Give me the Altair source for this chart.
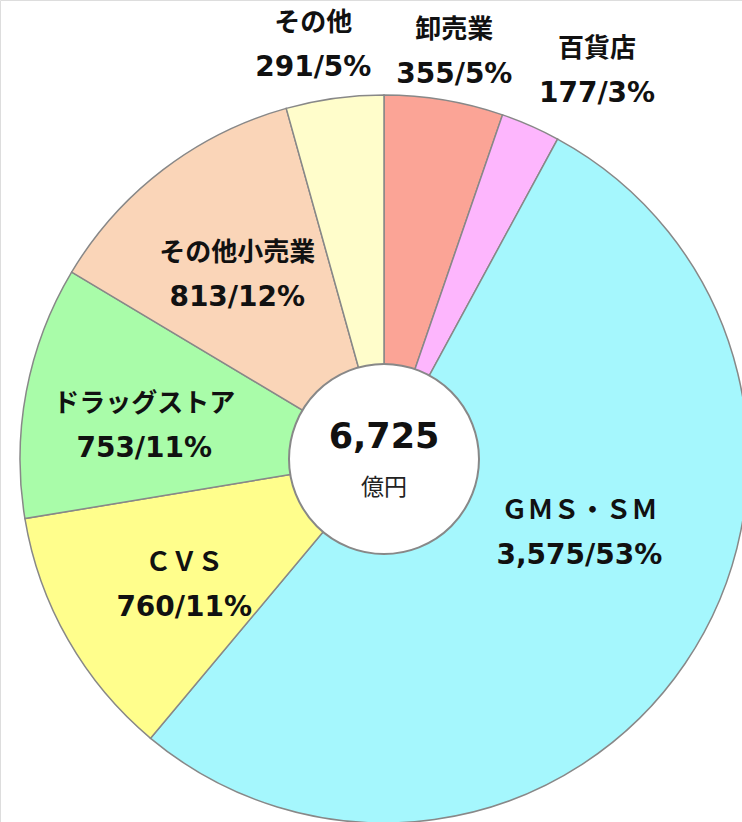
import math
import altair as alt
import pandas as pd

# ---- data ----
categories = ["卸売業", "百貨店", "ＧＭＳ・ＳＭ", "ＣＶＳ", "ドラッグストア", "その他小売業", "その他"]
values = [355, 177, 3575, 760, 753, 813, 291]
percents = [5, 3, 53, 11, 11, 12, 5]
value_labels = ["355", "177", "3,575", "760", "753", "813", "291"]
colors = ["#FBA496", "#FDB6FD", "#A5F7FD", "#FFFE8C", "#A9FCA9", "#FAD5B8", "#FFFDCB"]
total_label = "6,725"
unit_label = "億円"

# ---- layout ----
W, H = 742, 822
CX, CY = 384, 459
R_OUT = 364
R_HOLE = 95
FONT = "DejaVu Sans, Noto Sans CJK JP"
# label placement: (radius px, angle tweak in degrees from slice middle)
label_layout = {
    "卸売業": (413, 0.3),
    "百貨店": (443, 5.0),
    "ＧＭＳ・ＳＭ": (209, -13.4),
    "ＣＶＳ": (236, -2.4),
    "ドラッグストア": (242, -2.9),
    "その他小売業": (235, -1.3),
    "その他": (420, -1.9),
}

total = sum(values)
rows = []
cum = 0
for i, (c, v, p, vl) in enumerate(zip(categories, values, percents, value_labels)):
    mid = (cum + v / 2) / total * 2 * math.pi
    cum += v
    r, tweak = label_layout[c]
    rows.append({
        "idx": i, "cat": c, "value": v,
        "vtext": f"{vl}/{p}%",
        "ang": mid + math.radians(tweak),
        "lr": r,
    })
df = pd.DataFrame(rows)

base = alt.Chart(df)

pie = base.mark_arc(outerRadius=R_OUT, stroke="#888888", strokeWidth=1.5).encode(
    theta=alt.Theta("value:Q", stack=True),
    order=alt.Order("idx:Q"),
    color=alt.Color("cat:N", scale=alt.Scale(domain=categories, range=colors), legend=None),
    x=alt.value(CX),
    y=alt.value(CY),
)

pos = dict(
    theta=alt.Theta("ang:Q", scale=None, stack=None),
    radius=alt.Radius("lr:Q", scale=None),
    x=alt.value(CX),
    y=alt.value(CY),
)

names = base.mark_text(
    font=FONT, fontSize=26, fontWeight="bold",
    align="center", baseline="middle", color="#111111", dy=-22,
).encode(text="cat:N", **pos)

nums = base.mark_text(
    font=FONT, fontSize=28, fontWeight="bold",
    align="center", baseline="middle", color="#111111", dy=23,
).encode(text="vtext:N", **pos)

center_df = pd.DataFrame({"total": [total_label], "unit": [unit_label]})
cbase = alt.Chart(center_df)
hole = cbase.mark_arc(
    outerRadius=R_HOLE, innerRadius=0, theta=0, theta2=2 * math.pi,
    fill="white", stroke="#888888", strokeWidth=2,
).encode(x=alt.value(CX), y=alt.value(CY))

total_text = cbase.mark_text(
    font=FONT, fontSize=35, fontWeight="bold", color="#111111",
    align="center", baseline="middle", dy=-22,
).encode(text="total:N", x=alt.value(CX), y=alt.value(CY))

unit_text = cbase.mark_text(
    font="Noto Sans CJK JP", fontSize=23, color="#222222",
    align="center", baseline="middle", dy=29,
).encode(text="unit:N", x=alt.value(CX), y=alt.value(CY))

chart = alt.layer(pie, names, nums, hole, total_text, unit_text).properties(
    width=W, height=H, padding=0, autosize=alt.AutoSizeParams(type="none"),
).configure_view(stroke=None).configure(background="white")

chart.save("out.html", embed_options={"renderer": "svg", "actions": False})
